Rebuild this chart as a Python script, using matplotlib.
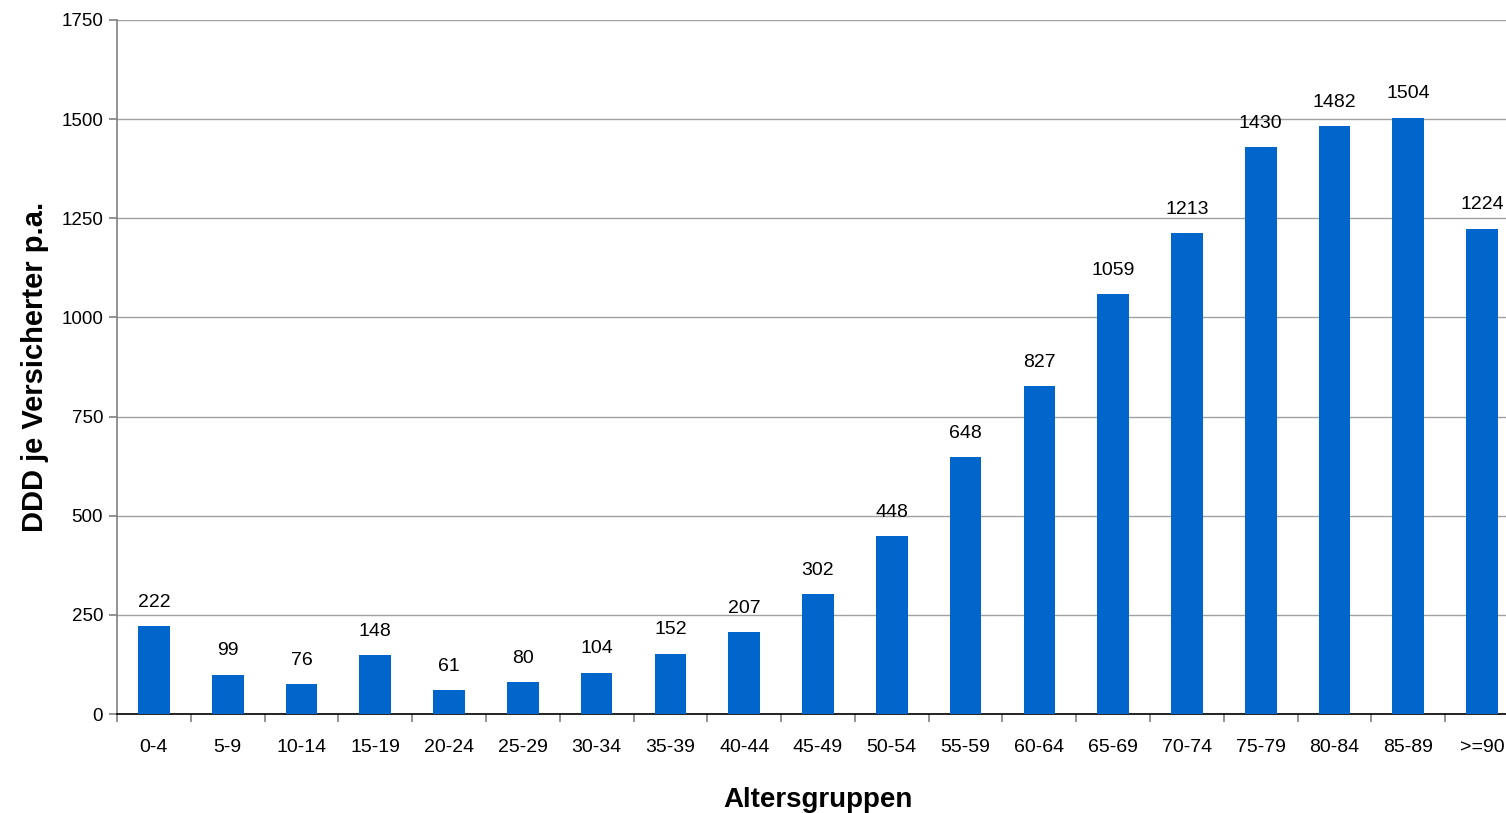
import matplotlib.pyplot as plt
import numpy as np

plt.rcParams['font.family'] = ['Liberation Sans', 'DejaVu Sans']

# DDD per insured person per year by age group
age_groups = ["0-4", "5-9", "10-14", "15-19", "20-24", "25-29", "30-34", "35-39",
              "40-44", "45-49", "50-54", "55-59", "60-64", "65-69", "70-74",
              "75-79", "80-84", "85-89", ">=90"]
ddd = [222, 99, 76, 148, 61, 80, 104, 152, 207, 302, 448, 648, 827, 1059,
       1213, 1430, 1482, 1504, 1224]
y_ticks = [0, 250, 500, 750, 1000, 1250, 1500, 1750]

fig = plt.figure(figsize=(15.06, 8.13), dpi=100)
# axes run slightly past the right edge of the figure
ax = fig.add_axes([117 / 1506, 99 / 813, 1402 / 1506, 694 / 813])

x = np.arange(len(age_groups))
ax.bar(x, ddd, width=0.43, color="#0066CC", zorder=3)

for xi, v in zip(x, ddd):
    ax.annotate(str(v), (xi, v), xytext=(0, 11), textcoords="offset points",
                ha="center", va="bottom", fontsize=14)

ax.set_xlim(-0.5, len(age_groups) - 0.5)
ax.set_ylim(0, 1750)
ax.set_yticks(y_ticks)
ax.set_yticklabels([str(t) for t in y_ticks], fontsize=13.5)
ax.yaxis.grid(True, color="#A0A0A0", linewidth=1, zorder=0)

# category labels centered, tick marks between categories
ax.set_xticks(x)
ax.set_xticklabels(age_groups, fontsize=14)
ax.tick_params(axis="x", length=0, pad=18)
ax.set_xticks(np.arange(len(age_groups) + 1) - 0.5, minor=True)
ax.tick_params(axis="x", which="minor", length=6, color="#808080", width=1.2)
ax.tick_params(axis="y", length=6, color="#808080", width=1.2, pad=4)

for side in ["top", "right"]:
    ax.spines[side].set_visible(False)
ax.spines["left"].set_color("#808080")
ax.spines["left"].set_linewidth(1.2)
ax.spines["bottom"].set_color("black")
ax.spines["bottom"].set_linewidth(1.2)

ax.set_xlabel("Altersgruppen", fontsize=20, fontweight="bold", labelpad=22)
ax.set_ylabel("DDD je Versicherter p.a.", fontsize=21, fontweight="bold", labelpad=9)

fig.savefig("out.png", dpi=100)
